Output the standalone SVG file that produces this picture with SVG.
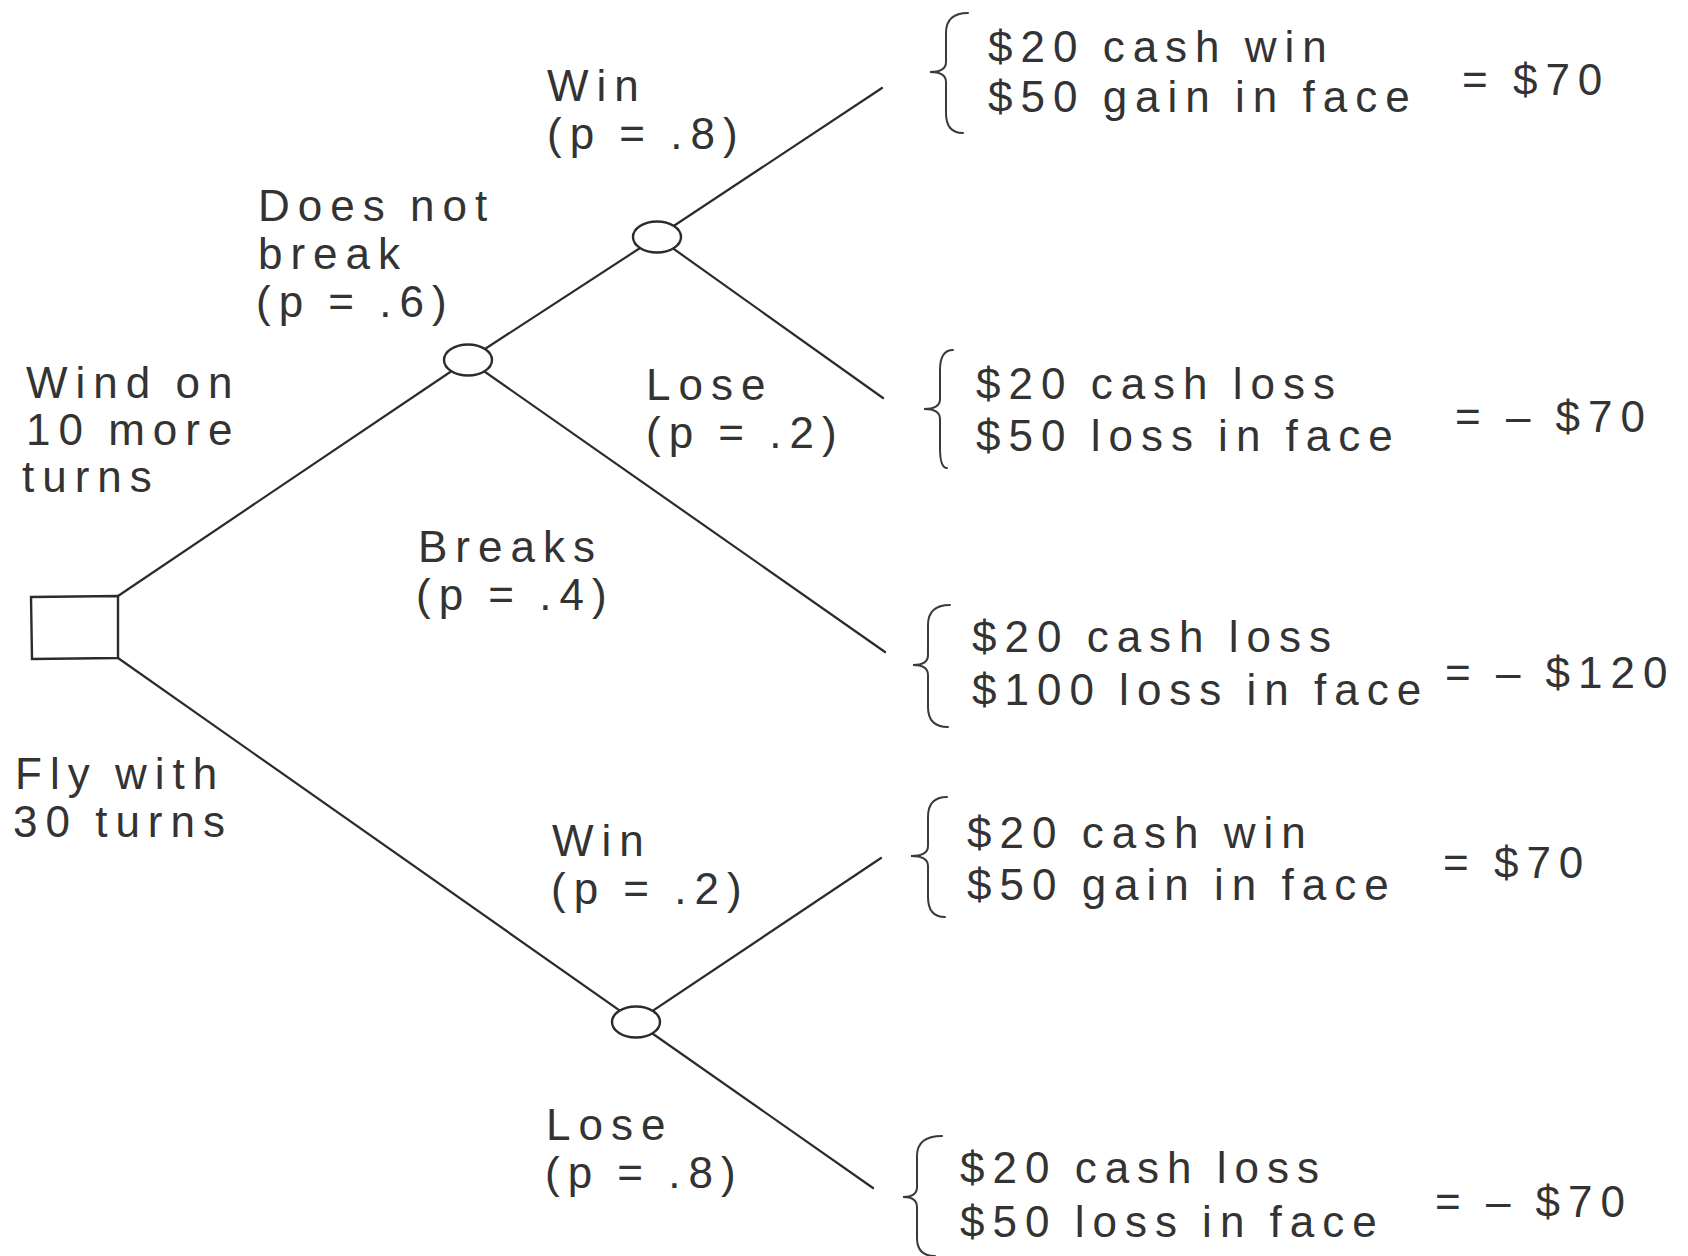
<svg xmlns="http://www.w3.org/2000/svg" width="1688" height="1256" viewBox="0 0 1688 1256">
  <style>
    .edge { stroke: #2b2b2b; stroke-width: 2.2; fill: none; stroke-linecap: round; }
    .node { stroke: #2b2b2b; stroke-width: 2.4; fill: #ffffff; }
    .brace { stroke: #3a3a3a; stroke-width: 2; fill: none; stroke-linecap: round; }
    text { font-family: "Liberation Sans", Arial, sans-serif; font-size: 44px; letter-spacing: 8px; word-spacing: -3px; fill: #333333; }
  </style>
  <rect width="1688" height="1256" fill="#ffffff"/>

  <!-- branches -->
  <g id="connectors">
    <line class="edge" x1="118" y1="596" x2="468" y2="360"/>
    <line class="edge" x1="468" y1="360" x2="657" y2="237"/>
    <line class="edge" x1="657" y1="237" x2="882" y2="88"/>
    <line class="edge" x1="657" y1="237" x2="883" y2="398"/>
    <line class="edge" x1="468" y1="360" x2="885" y2="652"/>
    <line class="edge" x1="118" y1="658" x2="636" y2="1022"/>
    <line class="edge" x1="636" y1="1022" x2="881" y2="858"/>
    <line class="edge" x1="636" y1="1022" x2="873" y2="1188"/>
  </g>

  <!-- decision node -->
  <g id="decision">
    <path class="node" d="M31 597 L118 596 L118 658 L32 659 Z"/>
    <text x="26" y="398">Wind on</text>
    <text x="26" y="445">10 more</text>
    <text x="22" y="492">turns</text>
    <text x="15" y="789">Fly with</text>
    <text x="13" y="837">30 turns</text>
  </g>

  <!-- chance nodes -->
  <g id="chance-break">
    <ellipse class="node" cx="468" cy="360" rx="24" ry="15.5"/>
    <text x="258" y="221">Does not</text>
    <text x="258" y="269">break</text>
    <text x="256" y="317">(p = .6)</text>
    <text x="418" y="562">Breaks</text>
    <text x="416" y="610">(p = .4)</text>
  </g>

  <g id="chance-wind">
    <ellipse class="node" cx="657" cy="237" rx="24" ry="15.5"/>
    <text x="547" y="101">Win</text>
    <text x="547" y="149">(p = .8)</text>
    <text x="646" y="400">Lose</text>
    <text x="646" y="448">(p = .2)</text>
  </g>

  <g id="chance-fly">
    <ellipse class="node" cx="636" cy="1022" rx="24" ry="15.5"/>
    <text x="552" y="856">Win</text>
    <text x="551" y="904">(p = .2)</text>
    <text x="546" y="1140">Lose</text>
    <text x="545" y="1188">(p = .8)</text>
  </g>

  <!-- outcomes -->
  <g id="outcome-1">
    <path class="brace" d="M968 13 Q946 13 946 33 L946 62 Q946 72 930 72 Q946 72 946 82 L946 113 Q946 133 963 133"/>
    <text x="988" y="62">$20 cash win</text>
    <text x="988" y="112">$50 gain in face</text>
    <text x="1462" y="95">= $70</text>
  </g>

  <g id="outcome-2">
    <path class="brace" d="M953 350 Q940 350 940 370 L940 399 Q940 409 924 409 Q940 409 940 419 L940 448 Q940 468 947 468"/>
    <text x="976" y="399">$20 cash loss</text>
    <text x="976" y="451">$50 loss in face</text>
    <text x="1455" y="432">= – $70</text>
  </g>

  <g id="outcome-3">
    <path class="brace" d="M950 605 Q928 605 928 625 L928 655 Q928 665 913 665 Q928 665 928 675 L928 707 Q928 727 948 727"/>
    <text x="972" y="652">$20 cash loss</text>
    <text x="972" y="705">$100 loss in face</text>
    <text x="1445" y="688">= – $120</text>
  </g>

  <g id="outcome-4">
    <path class="brace" d="M947 797 Q928 797 928 817 L928 846 Q928 856 911 856 Q928 856 928 866 L928 897 Q928 917 945 917"/>
    <text x="967" y="848">$20 cash win</text>
    <text x="967" y="900">$50 gain in face</text>
    <text x="1443" y="878">= $70</text>
  </g>

  <g id="outcome-5">
    <path class="brace" d="M942 1136 Q917 1136 917 1156 L917 1187 Q917 1197 903 1197 Q917 1197 917 1207 L917 1238 Q917 1256 935 1256"/>
    <text x="960" y="1183">$20 cash loss</text>
    <text x="960" y="1237">$50 loss in face</text>
    <text x="1435" y="1217">= – $70</text>
  </g>
</svg>
